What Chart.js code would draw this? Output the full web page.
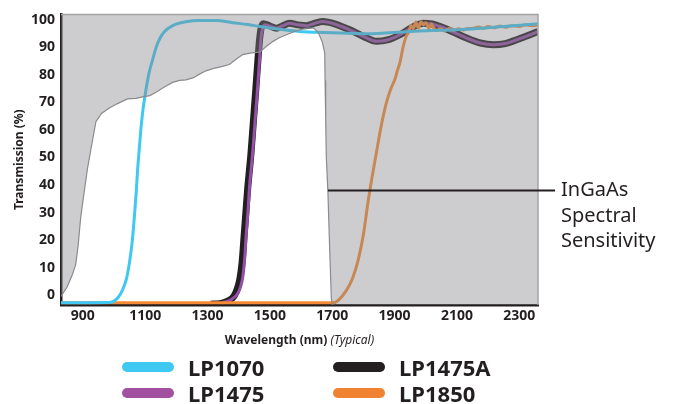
<!DOCTYPE html>
<html>
<head>
<meta charset="utf-8">
<script src="https://cdn.jsdelivr.net/npm/chart.js@4/dist/chart.umd.min.js"></script>
<style>
  body { margin: 0; background: #fff; }
  #wrap { position: relative; width: 676px; height: 404px; }
  #legend {
    position: absolute; left: 122px; top: 354px;
    display: grid; grid-template-columns: 211px auto;
    font: bold 22px "Noto Sans", sans-serif; color: #231f20;
  }
  #legend .item { display: flex; align-items: center; height: 26px; }
  #legend .sw { width: 52px; height: 10px; border-radius: 5px; margin-right: 14px; }
</style>
</head>
<body>
<div id="wrap">
  <canvas id="myChart"></canvas>
  <div id="legend"></div>
</div>
<script>
// InGaAs spectral sensitivity (background shape)
const ingaasNm  = [830, 850, 865, 877, 885, 893, 905, 915, 926, 942, 960, 985, 1010, 1043, 1070, 1092, 1115, 1135, 1160, 1188, 1210, 1231, 1255, 1274, 1295, 1317, 1345, 1370, 1395, 1413, 1440, 1467, 1490, 1510, 1530, 1553, 1575, 1595, 1620, 1640, 1655, 1668, 1676, 1677, 1679, 1681, 1686, 1692, 1695, 1697, 1700];
const ingaasPct = [-0.5, 3, 7, 11, 18, 28, 38, 46, 53, 63, 66, 68, 69.5, 71.3, 71.5, 72, 72.5, 73.7, 75.5, 77.3, 78, 78.2, 79, 80.3, 81.5, 82.3, 83, 83.8, 86, 87.4, 88, 88.3, 90.5, 92.2, 93.5, 94.6, 95.6, 96.4, 97, 97, 95.5, 92, 88, 78, 64, 50, 38, 16, 6, -1, -3.6];

// LP1070
const lp1070Nm  = [830, 985, 1000, 1015, 1027, 1040, 1049, 1058, 1065, 1071, 1076, 1081, 1086, 1092, 1103, 1113, 1124, 1135, 1145, 1160, 1188, 1230, 1274, 1328, 1381, 1430, 1467, 1530, 1595, 1649, 1700, 1810, 1949, 2131, 2250, 2360];
const lp1070Pct = [-2.8, -2.7, -2.2, -0.6, 1.8, 6, 11.4, 19, 28, 37, 46, 53, 60, 66.5, 75, 81, 85.6, 90, 92.8, 95.5, 97.9, 99.3, 99.8, 99.8, 99, 98.3, 97.6, 96.6, 95.8, 95.5, 95.3, 95, 95.8, 96.6, 97.6, 98.6];

// LP1475
const lp1475Nm  = [1345, 1360, 1380, 1397, 1406, 1413, 1419, 1424, 1430, 1435, 1440, 1445, 1453, 1461, 1467, 1472, 1477, 1483, 1500, 1521, 1540, 1563, 1590, 1617, 1645, 1670, 1700, 1730, 1756, 1800, 1842, 1880, 1917, 1955, 1992, 2020, 2046, 2090, 2131, 2175, 2217, 2255, 2292, 2330, 2360];
const lp1475Pct = [-2.8, -2.4, -1.3, 0.6, 3, 6.6, 13, 22, 31, 40, 46, 52, 64, 76, 86, 94, 97, 98.2, 97.8, 97, 97.8, 98.8, 98.2, 97.9, 98.8, 99.4, 98.8, 97.6, 96.4, 94, 92.2, 92.8, 94.6, 97.2, 98.8, 98.5, 97.6, 95.5, 93.4, 91.6, 91, 91.4, 92.8, 94.4, 95.8];

// LP1475A
const lp1475aNm  = [1310, 1340, 1365, 1385, 1396, 1404, 1411, 1417, 1423, 1429, 1434, 1439, 1447, 1455, 1462, 1467, 1472, 1479, 1500, 1521, 1540, 1563, 1590, 1617, 1645, 1670, 1700, 1730, 1756, 1800, 1842, 1880, 1917, 1955, 1992, 2020, 2046, 2090, 2131, 2175, 2217, 2255, 2292, 2330, 2360];
const lp1475aPct = [-3.3, -3.1, -2.2, -0.4, 2.5, 6, 12, 21, 30, 39, 45, 51, 63, 75, 86, 93, 97, 98.6, 97.8, 97, 97.8, 98.8, 98.2, 97.9, 98.8, 99.4, 98.8, 97.6, 96.4, 94, 92.2, 92.8, 94.6, 97.2, 98.8, 98.5, 97.6, 95.5, 93.4, 91.6, 91, 91.4, 92.8, 94.4, 95.8];

// LP1850
const lp1850Nm  = [830, 1690, 1703, 1720, 1746, 1765, 1783, 1800, 1815, 1828, 1842, 1858, 1874, 1888, 1901, 1910, 1917, 1927, 1937, 1945, 1953, 1960, 1968, 1976, 1985, 1992, 2000, 2010, 2018, 2024, 2035, 2046, 2060, 2075, 2090, 2105, 2120, 2131, 2150, 2170, 2185, 2200, 2220, 2238, 2255, 2275, 2300, 2320, 2340, 2360];
const lp1850Pct = [-2.8, -2.8, -2.8, -1.8, 1.8, 6, 12.6, 22, 34, 43, 52, 62, 70, 75, 78.4, 82, 84.4, 90, 94, 95.5, 98, 96.8, 99.2, 97, 99.3, 98.2, 99, 97, 98.6, 97.4, 96.2, 96.8, 96, 96.9, 96.2, 96.8, 96.3, 96.8, 96.9, 97.4, 96.9, 97.6, 97.1, 97.8, 97.3, 97.9, 97.6, 98.2, 97.9, 98.2];

const xTicks = [900, 1100, 1300, 1500, 1700, 1900, 2100, 2300];
const yTicks = [0, 10, 20, 30, 40, 50, 60, 70, 80, 90, 100];

// where the "InGaAs Spectral Sensitivity" pointer starts
const noteNm = 1686;
const notePct = 38;
const noteLines = ["InGaAs", "Spectral", "Sensitivity"];

const ink = "#231f20";
const shade = "#cdcecf";
const fontFamily = "'Noto Sans', 'DejaVu Sans', sans-serif";

const pts = (xs, ys) => xs.map((x, i) => ({ x: x, y: ys[i] }));

Chart.defaults.font.family = fontFamily;
Chart.defaults.color = ink;

// gray area above the sensitivity curve, laid over the filter curves
const shadePlugin = {
  id: "shade",
  beforeDatasetDraw(chart, args) {
    if (args.index !== 0) return;
    const ctx = chart.ctx;
    const a = chart.chartArea;
    const p = args.meta.data;
    ctx.save();
    ctx.beginPath();
    ctx.rect(a.left, a.top, a.width, a.height);
    ctx.clip();
    ctx.beginPath();
    ctx.rect(a.left, a.top, a.width, a.height);
    ctx.moveTo(p[0].x, a.bottom);
    p.forEach(pt => ctx.lineTo(pt.x, pt.y));
    ctx.lineTo(p[p.length - 1].x, a.bottom);
    ctx.closePath();
    ctx.fillStyle = shade;
    ctx.globalCompositeOperation = "multiply";
    ctx.fill("evenodd");
    ctx.globalCompositeOperation = "source-over";
    ctx.globalAlpha = 0.26;
    ctx.fill("evenodd");
    ctx.restore();
  },
  afterDraw(chart) {
    const ctx = chart.ctx;
    const a = chart.chartArea;
    const xs = chart.scales.x;
    const ys = chart.scales.y;
    ctx.save();
    // top / right frame
    ctx.strokeStyle = "#a3a4a6";
    ctx.lineWidth = 1.5;
    ctx.beginPath();
    ctx.moveTo(a.left, a.top);
    ctx.lineTo(a.right, a.top);
    ctx.lineTo(a.right, a.bottom);
    ctx.stroke();

    // pointer + note
    const y0 = ys.getPixelForValue(notePct);
    const xEnd = a.right + 17;
    ctx.strokeStyle = ink;
    ctx.lineWidth = 2;
    ctx.beginPath();
    ctx.moveTo(xs.getPixelForValue(noteNm), y0);
    ctx.lineTo(xEnd, y0);
    ctx.stroke();
    ctx.fillStyle = ink;
    ctx.font = "20px " + fontFamily;
    ctx.textBaseline = "middle";
    ctx.textAlign = "left";
    noteLines.forEach((t, i) => ctx.fillText(t, xEnd + 6, y0 + i * 25.5));

    // x axis title: bold part + italic part
    const t1 = "Wavelength (nm) ";
    const t2 = "(Typical)";
    ctx.font = "bold 12px " + fontFamily;
    const w1 = ctx.measureText(t1).width;
    ctx.font = "italic 12px " + fontFamily;
    const w2 = ctx.measureText(t2).width;
    const start = (a.left + a.right) / 2 - (w1 + w2) / 2;
    const ty = a.bottom + 36;
    ctx.font = "bold 12px " + fontFamily;
    ctx.fillText(t1, start, ty);
    ctx.font = "italic 12px " + fontFamily;
    ctx.fillText(t2, start + w1, ty);
    ctx.restore();
  }
};

const ctx = document.getElementById("myChart");
const line = (label, xs, ys, color, width, order) => ({
  label: label,
  data: pts(xs, ys),
  borderColor: color,
  backgroundColor: color,
  borderWidth: width,
  pointRadius: 0,
  cubicInterpolationMode: "monotone",
  order: order,
});

const datasets = [
  {
    label: "InGaAs",
    data: pts(ingaasNm, ingaasPct),
    borderColor: "#8a8b8d",
    borderWidth: 1.2,
    pointRadius: 0,
    tension: 0,
    fill: false,
    order: 0,
  },
  line("LP1070", lp1070Nm, lp1070Pct, "#3ec8f2", 3, 1),
  line("LP1475A", lp1475aNm, lp1475aPct, ink, 7, 4),
  line("LP1475", lp1475Nm, lp1475Pct, "#9450a6", 3, 3),
  line("LP1850", lp1850Nm, lp1850Pct, "#f58a35", 3, 2),
];

const legendColors = { LP1070: "#3ec8f2", LP1475A: ink, LP1475: "#a251a1", LP1850: "#f08232" };

const tickFont = { size: 14, weight: "bold" };

new Chart(ctx, {
  type: "line",
  data: { datasets: datasets },
  options: {
    responsive: true,
    maintainAspectRatio: false,
    animation: false,
    layout: { padding: { top: 11, right: 138, left: 0, bottom: 0 } },
    plugins: {
      legend: { display: false },
      tooltip: { enabled: false },
    },
    scales: {
      x: {
        type: "linear",
        min: 830,
        max: 2360,
        grid: { display: false, drawTicks: false },
        border: { display: true, color: ink, width: 2.5 },
        afterBuildTicks: (scale) => { scale.ticks = xTicks.map(v => ({ value: v })); },
        afterFit: (scale) => { scale.height = 99; },
        ticks: {
          font: tickFont,
          color: ink,
          padding: 3,
          maxRotation: 0,
          callback: (v) => String(v),
        },
      },
      y: {
        min: -3.6,
        max: 102,
        grid: { display: false, drawTicks: false },
        border: { display: true, color: ink, width: 2.5 },
        afterBuildTicks: (scale) => { scale.ticks = yTicks.map(v => ({ value: v })); },
        afterFit: (scale) => { scale.width = 61; },
        title: {
          display: true,
          text: "Transmission (%)",
          color: ink,
          font: { size: 12, weight: "bold" },
          padding: { top: 12, bottom: 0 },
        },
        ticks: {
          font: tickFont,
          color: ink,
          padding: 6,
          callback: (v) => String(v),
        },
      },
    },
  },
  plugins: [shadePlugin],
});

// legend, two columns
const legendOrder = ["LP1070", "LP1475A", "LP1475", "LP1850"];
const legendBox = document.getElementById("legend");
legendOrder.forEach(name => {
  const item = document.createElement("div");
  item.className = "item";
  const sw = document.createElement("span");
  sw.className = "sw";
  sw.style.background = legendColors[name];
  item.appendChild(sw);
  item.appendChild(document.createTextNode(name));
  legendBox.appendChild(item);
});
</script>
</body>
</html>
